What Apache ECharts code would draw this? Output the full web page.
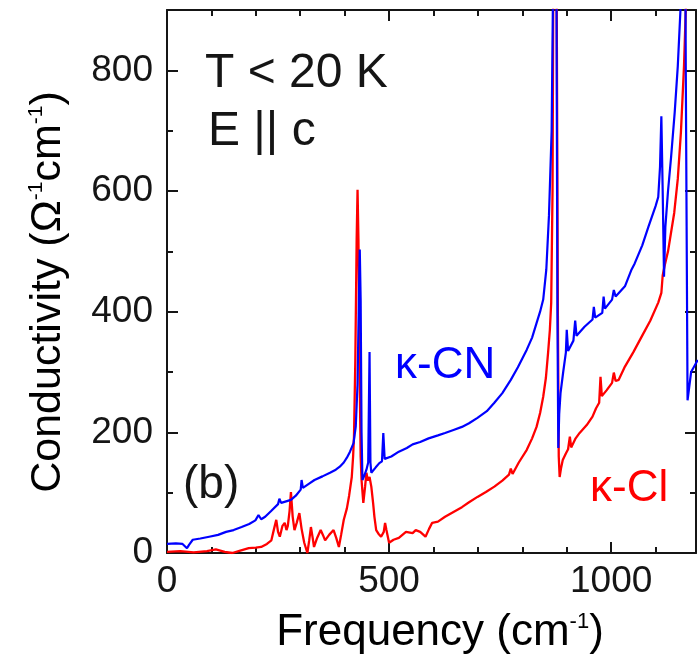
<!DOCTYPE html>
<html><head><meta charset="utf-8">
<script src="https://cdn.jsdelivr.net/npm/echarts@6/dist/echarts.min.js"></script>
<style>html,body{margin:0;padding:0;background:#fff}#c{width:699px;height:667px}</style>
</head><body><div id="c"></div>
<script>
// κ-CN (blue) : frequency (cm^-1) and conductivity (Ω^-1 cm^-1)
const freqCN = [0,20,35,45,50,58,75,95,115,133,150,168,185,199,206,212,221,235,250,253,257,270,279,290,301,303,306,320,332,350,367,380,389,398,405,412,420,425,429,432,434,436,438,440,444,449,453,456,458,460,470,478,484,487,490,493,505,522,540,553,570,589,610,626,645,664,680,699,720,737,755,774,790,810,822,832,840,847,854,860,866,870,874,877,879,881,883,886,892,898,900,903,915,919,922,940,958,961,964,980,983,986,1002,1006,1010,1031,1046,1053,1070,1084,1100,1106,1110,1113,1116,1119,1122,1128,1135,1143,1150,1156,1160,1164,1168,1172,1180,1195];
const sigmaCN = [15,16,15,8,14,22,24,27,30,35,38,43,48,54,63,56,60,70,81,90,83,86,88,95,105,121,108,115,121,127,133,138,143,150,158,168,182,210,280,420,503,420,200,121,128,138,150,333,150,133,142,149,152,199,156,154,160,168,174,180,184,190,195,199,204,209,215,224,235,249,265,287,308,337,357,381,400,420,470,560,700,1000,1400,900,400,174,230,265,300,332,370,335,352,385,360,375,387,408,390,398,425,405,420,436,425,442,470,480,510,541,575,590,640,724,600,458,540,600,657,730,807,900,1200,1500,800,253,300,320];
// κ-Cl (red)
const freqCl = [0,30,60,90,110,130,147,165,184,200,212,225,235,241,246,250,254,260,265,269,272,276,279,283,287,292,298,303,309,316,320,324,328,331,338,346,351,356,365,375,381,387,392,398,405,410,416,419,421,424,427,429,431,434,436,438,442,446,449,452,456,460,464,467,471,476,482,488,491,494,500,510,522,538,553,560,570,582,590,597,610,626,645,664,680,699,718,737,755,770,774,778,792,810,822,832,840,847,853,858,862,865,868,871,874,877,880,882,884,887,891,898,903,907,910,920,929,945,958,966,973,976,979,990,1002,1006,1010,1017,1031,1050,1069,1088,1106,1113,1116,1120,1128,1142,1150,1157,1164,1168,1172,1180,1195];
const sigmaCl = [2,3,1,3,6,2,0,4,8,9,10,15,21,40,55,35,27,45,50,38,45,70,101,60,38,50,66,40,17,0,20,43,25,10,25,38,30,21,30,38,25,10,30,55,74,95,126,160,193,320,520,602,520,280,160,121,83,110,133,120,126,110,83,60,38,32,27,35,50,38,17,22,25,35,33,38,35,27,40,50,52,60,68,76,84,93,101,110,120,130,140,131,150,171,190,209,232,259,290,332,370,415,600,1200,1500,1000,400,160,126,140,154,165,172,193,175,190,199,212,226,240,249,292,260,270,282,299,285,287,309,333,359,385,415,431,460,475,500,564,620,697,807,900,1200,1400,1500];
const xTickLabels = [0, 500, 1000];
const yTickLabels = [0, 200, 400, 600, 800];
const seriesNames = ['κ-Cl', 'κ-CN'];

const XMAX = 1191, YMAX = 900;
const FONT = 'Liberation Sans, Arial, sans-serif';
const INK = '#151515';
const chart = echarts.init(document.getElementById('c'), null, {renderer: 'canvas'});
const zip = (a, b) => a.map((v, i) => [v, b[i]]);

function xAx(pos, interval, len, labels, line) {
  return {
    type: 'value', position: pos, min: 0, max: XMAX, interval: interval,
    axisLine: {show: line, onZero: false, lineStyle: {color: INK, width: 2}},
    axisTick: {show: true, inside: true, length: len, lineStyle: {color: INK, width: 2}},
    axisLabel: {show: labels, margin: 10, fontSize: 37, color: INK, fontFamily: FONT,
      formatter: v => xTickLabels.includes(v) ? String(v) : ''},
    splitLine: {show: false}
  };
}
function yAx(pos, interval, len, labels, line) {
  return {
    type: 'value', position: pos, min: 0, max: YMAX, interval: interval,
    axisLine: {show: line, onZero: false, lineStyle: {color: INK, width: 2}},
    axisTick: {show: true, inside: true, length: len, lineStyle: {color: INK, width: 2}},
    axisLabel: {show: labels, margin: 14, fontSize: 37, color: INK, fontFamily: FONT,
      formatter: v => yTickLabels.includes(v) ? String(v) : ''},
    splitLine: {show: false}
  };
}

chart.setOption({
  animation: false,
  backgroundColor: '#fff',
  grid: {left: 167, right: -7, top: 10, bottom: 114, containLabel: false},
  xAxis: [
    xAx('bottom', 500, 11, true, true),
    xAx('bottom', 100, 6, false, false),
    xAx('top', 500, 11, false, true),
    xAx('top', 100, 6, false, false)
  ],
  yAxis: [
    yAx('left', 200, 11, true, true),
    yAx('left', 100, 6, false, false),
    yAx('right', 200, 11, false, true),
    yAx('right', 100, 6, false, false)
  ],
  series: [
    {name: seriesNames[0], type: 'line', xAxisIndex: 0, yAxisIndex: 0, data: zip(freqCl, sigmaCl),
     showSymbol: false, clip: true, lineStyle: {color: '#ff0000', width: 2.3}, z: 2},
    {name: seriesNames[1], type: 'line', xAxisIndex: 0, yAxisIndex: 0, data: zip(freqCN, sigmaCN),
     showSymbol: false, clip: true, lineStyle: {color: '#0000ff', width: 2.2}, z: 3}
  ],
  graphic: [
    {type: 'text', left: 205, top: 50, style: {text: 'T < 20 K', font: '48px ' + FONT, fill: INK}},
    {type: 'text', left: 208, top: 108, style: {text: 'E || c', font: '48px ' + FONT, fill: INK}},
    {type: 'text', left: 183, top: 462, style: {text: '(b)', font: '46px ' + FONT, fill: INK}},
    {type: 'text', left: 395, top: 344, style: {text: 'κ-CN', font: '44px ' + FONT, fill: '#0000ff'}},
    {type: 'text', left: 590, top: 467, style: {text: 'κ-Cl', font: '44px ' + FONT, fill: '#ff0000'}},
    {type: 'text', x: 440, y: 630, style: {
      text: '{a|Frequency (cm}{s|-1}{a|)}', align: 'center', verticalAlign: 'middle',
      rich: {a: {fontSize: 44, fontFamily: FONT, color: INK, lineHeight: 50, verticalAlign: 'bottom'},
             s: {fontSize: 22, fontFamily: FONT, color: INK, lineHeight: 50, verticalAlign: 'top', padding: [6, 0, 0, 0]}}}},
    {type: 'text', x: 45, y: 292, rotation: Math.PI / 2, style: {
      text: '{a|Conductivity (Ω}{s|-1}{a|cm}{s|-1}{a|)}', align: 'center', verticalAlign: 'middle',
      rich: {a: {fontSize: 43, fontFamily: FONT, color: INK, lineHeight: 50, verticalAlign: 'bottom'},
             s: {fontSize: 21, fontFamily: FONT, color: INK, lineHeight: 50, verticalAlign: 'top', padding: [6, 0, 0, 0]}}}}
  ]
});
</script></body></html>
